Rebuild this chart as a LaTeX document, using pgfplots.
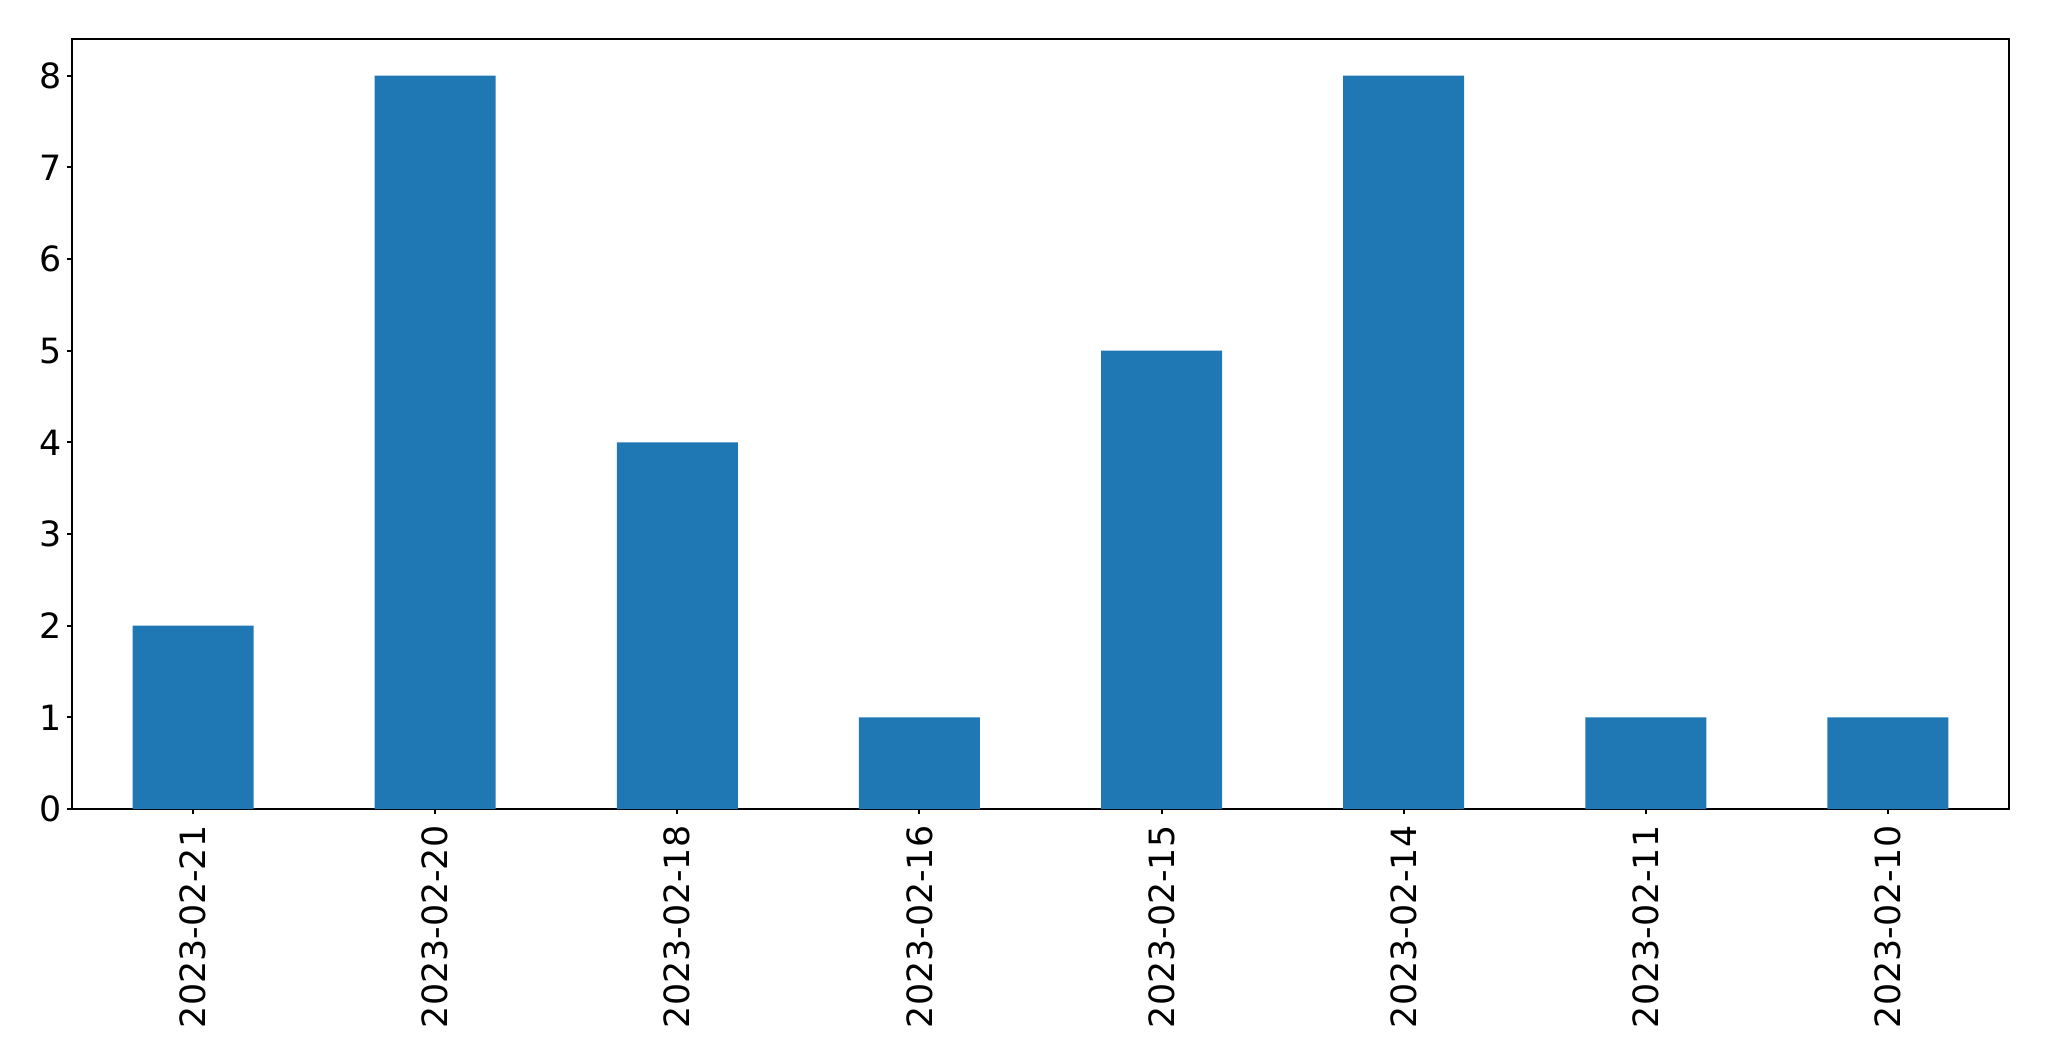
\documentclass[border=0pt]{standalone}
\usepackage{fontspec}
\setmainfont{DejaVu Sans}
\usepackage{pgfplots}
\pgfplotsset{compat=1.18}
\definecolor{mplblue}{HTML}{1F77B4}
\begin{document}
\begin{tikzpicture}
\useasboundingbox (0,0) rectangle (1024.5pt,530.5pt);
\begin{axis}[
  at={(36pt,126pt)}, anchor=south west,
  scale only axis,
  width=968.5pt, height=385pt,
  xmin=-0.5, xmax=7.5, ymin=0, ymax=8.4,
  xtick=data,
  xticklabels={2023-02-21,2023-02-20,2023-02-18,2023-02-16,2023-02-15,2023-02-14,2023-02-11,2023-02-10},
  ytick={0,1,2,3,4,5,6,7,8},
  tick align=outside,
  tick pos=left,
  major tick length=2.4pt,
  every tick/.style={black, line width=1pt},
  axis line style={line width=1pt},
  /pgf/number format/assume math mode=true,
  tick label style={font=\fontsize{17.4}{20}\selectfont, inner sep=0pt},
  yticklabel style={anchor=east, xshift=-2.5pt},
  xticklabel style={rotate=90, anchor=east, xshift=-5.8pt},
  ybar, bar width=0.5,
]
\addplot[fill=mplblue, draw=none] coordinates {(0,2) (1,8) (2,4) (3,1) (4,5) (5,8) (6,1) (7,1)};
\end{axis}
\end{tikzpicture}
\end{document}
